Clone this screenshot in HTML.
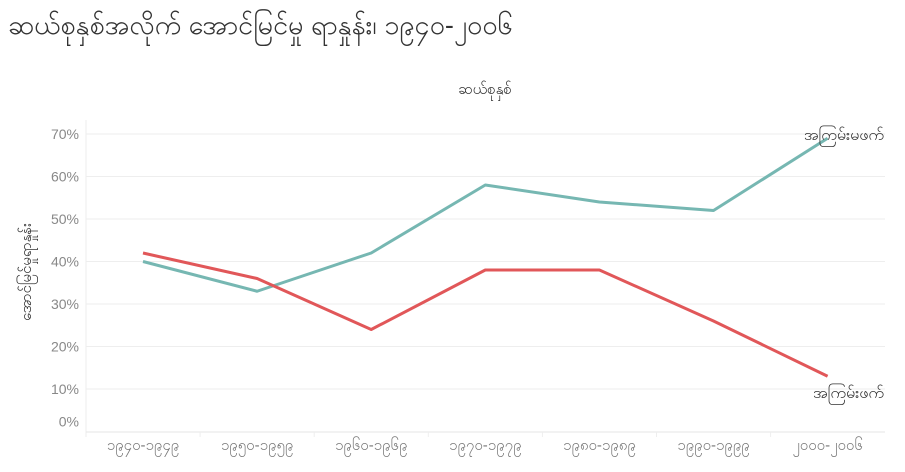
<!DOCTYPE html>
<html><head><meta charset="utf-8"><style>
body{margin:0;background:#fff;width:905px;height:467px;overflow:hidden;font-family:"Liberation Sans","Noto Sans CJK SC",sans-serif}
</style></head><body>
<svg width="905" height="467">
<text x="8" y="34" font-size="27" fill="#333">ဆယ်စုနှစ်အလိုက် အောင်မြင်မှု ရာနှုန်း၊ ၁၉၄၀-၂၀၀၆</text>
<text x="485" y="94" font-size="15" fill="#333" text-anchor="middle">ဆယ်စုနှစ်</text>
<text transform="translate(31,272) rotate(-90)" font-size="15" fill="#333" text-anchor="middle">အောင်မြင်မှုရာနှုန်း</text>
<g id="grid"></g><g id="lines"></g>
<text x="884" y="140" font-size="16" fill="#333" text-anchor="end">အကြမ်းမဖက်</text>
<text x="884" y="398" font-size="16" fill="#333" text-anchor="end">အကြမ်းဖက်</text>
</svg>
<script>
const categories=["၁၉၄၀-၁၉၄၉","၁၉၅၀-၁၉၅၉","၁၉၆၀-၁၉၆၉","၁၉၇၀-၁၉၇၉","၁၉၈၀-၁၉၈၉","၁၉၉၀-၁၉၉၉","၂၀၀၀-၂၀၀၆"];
const nonviolent=[40,33,42,58,54,52,69];
const violent=[42,36,24,38,38,26,13];
const yTicks=[0,10,20,30,40,50,60,70];
const NS="http://www.w3.org/2000/svg";
const x=i=>143+i*114.1;
const y=v=>431.5-v*4.25;
const g=document.getElementById('grid'),L=document.getElementById('lines');
function mk(tag,a,p){const e=document.createElementNS(NS,tag);for(const k in a)e.setAttribute(k,a[k]);p.appendChild(e);return e;}
yTicks.forEach(t=>{
 if(t>0){const l=mk('line',{x1:86,x2:885,y1:y(t),y2:y(t),stroke:'#eeeeee'},g);
 
 }
 const tx=mk('text',{x:79,y:(t==0?y(t)-5:y(t)+5),'font-size':14,fill:'#888','text-anchor':'end'},g);
 tx.textContent=t+'%';
 
 
});
const ax=mk('line',{x1:86,x2:86,y1:120,y2:437,stroke:'#eeeeee'},g);


const bx=mk('line',{x1:86,x2:885,y1:432,y2:432,stroke:'#e6e6e6'},g);


categories.forEach((c,i)=>{
 const t=mk('text',{x:x(i),y:450,'font-size':15,fill:'#777','text-anchor':'middle'},g);
 t.textContent=c;
 
 
 if(i>0){const s=mk('line',{x1:x(i)-57,x2:x(i)-57,y1:432,y2:437,stroke:'#eeeeee'},g);
 
 }
});
function line(vals,col,name){
 const p=mk('polyline',{points:vals.map((v,i)=>x(i)+','+y(v)).join(' '),fill:'none',stroke:col,'stroke-width':3,'stroke-linejoin':'round'},L);
 
 
}
line(nonviolent,'#76b7b2','line-nonviolent');
line(violent,'#e15759','line-violent');
</script>
</body></html>
